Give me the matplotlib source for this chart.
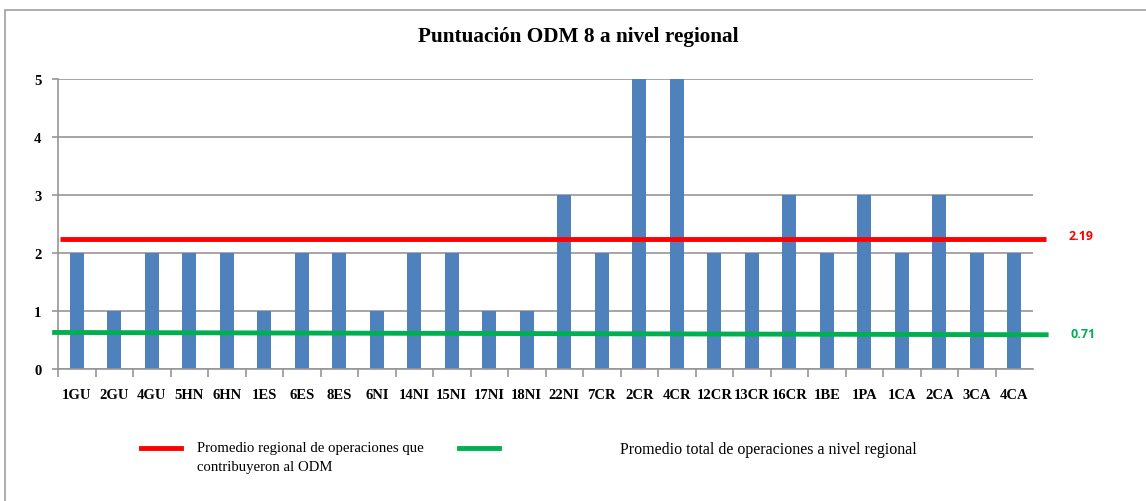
import matplotlib.pyplot as plt
import matplotlib.transforms as mtransforms
from matplotlib.patches import Rectangle

operaciones = ['1GU', '2GU', '4GU', '5HN', '6HN', '1ES', '6ES', '8ES', '6NI', '14NI',
               '15NI', '17NI', '18NI', '22NI', '7CR', '2CR', '4CR', '12CR', '13CR',
               '16CR', '1BE', '1PA', '1CA', '2CA', '3CA', '4CA']
puntuacion = [2, 1, 2, 2, 2, 1, 2, 2, 1, 2, 2, 1, 1, 3, 2, 5, 5, 2, 2, 3, 2, 3, 2, 3, 2, 2]

# lineas de promedio (posicion dibujada y etiqueta)
prom_regional_y = [2.25, 2.25]
prom_regional_txt = '2.19'
prom_total_y = [0.63, 0.59]
prom_total_txt = '0.71'

serif = 'Liberation Serif'
bar_color = '#4f81bd'
grid_color = '#969696'

fig = plt.figure(figsize=(11.46, 5.02), dpi=100)
ax = fig.add_axes([58 / 1146, 1 - 370 / 502, 975 / 1146, 290 / 502])

x = list(range(len(operaciones)))
ax.bar(x, puntuacion, width=0.37, color=bar_color, zorder=2)
ax.set_xlim(-0.5, len(operaciones) - 0.5)
ax.set_ylim(0, 5)
ax.set_yticks(range(6))
ax.yaxis.grid(True, color=grid_color, linewidth=1.2, zorder=0)
ax.set_axisbelow(True)

for s in ['top', 'right']:
    ax.spines[s].set_visible(False)
for s in ['left', 'bottom']:
    ax.spines[s].set_color(grid_color)
    ax.spines[s].set_linewidth(1.2)

ax.set_xticks([i + 0.5 for i in x[:-1]] + [-0.5], minor=False)
ax.set_xticklabels([])
ax.set_xticks(x, minor=True)
ax.set_xticklabels(operaciones, minor=True, fontfamily=serif, fontweight='bold', fontsize=10.5)
ax.tick_params(axis='x', which='major', length=6, color=grid_color, width=1.2)
ax.tick_params(axis='x', which='minor', length=0, pad=14)
ax.tick_params(axis='y', length=4, color=grid_color, width=1.2, pad=8)
for lbl in ax.get_yticklabels():
    lbl.set_fontfamily(serif)
    lbl.set_fontweight('bold')
    lbl.set_fontsize(10.5)

# lineas de promedio que sobresalen del area del grafico
trans = mtransforms.blended_transform_factory(ax.transAxes, ax.transData)
ax.plot([0.002, 1.013], prom_regional_y, color='#ff0000', linewidth=3.5,
        transform=trans, clip_on=False, zorder=3, solid_capstyle='butt')
ax.plot([-0.006, 1.016], prom_total_y, color='#00b050', linewidth=3.5,
        transform=trans, clip_on=False, zorder=3, solid_capstyle='butt')
ax.text(1.036, prom_regional_y[1] + 0.05, prom_regional_txt, transform=trans, color='#ff0000',
        fontfamily='Open Sans', fontweight='bold', fontsize=9, ha='left', va='center')
ax.text(1.038, prom_total_y[1] + 0.03, prom_total_txt, transform=trans, color='#00b050',
        fontfamily='Open Sans', fontweight='bold', fontsize=9, ha='left', va='center')

fig.text(578 / 1146, 1 - 37 / 502, 'Puntuación ODM 8 a nivel regional', fontfamily=serif,
         fontweight='bold', fontsize=15.3, ha='center', va='center')

# leyenda
fig.add_artist(plt.Line2D([141 / 1146, 181 / 1146], [1 - 449 / 502] * 2, color='#ff0000', linewidth=3.5))
fig.text(197 / 1146, 1 - 449 / 502, 'Promedio regional de operaciones que', fontfamily=serif,
         fontsize=10.6, ha='left', va='center')
fig.text(197 / 1146, 1 - 468 / 502, 'contribuyeron al ODM', fontfamily=serif,
         fontsize=10.6, ha='left', va='center')
fig.add_artist(plt.Line2D([459 / 1146, 499 / 1146], [1 - 449 / 502] * 2, color='#00b050', linewidth=3.5))
fig.text(620 / 1146, 1 - 450 / 502, 'Promedio total de operaciones a nivel regional', fontfamily=serif,
         fontsize=11.5, ha='left', va='center')

fig.add_artist(Rectangle((5 / 1146, -0.1), 1.2, 1 - 11 / 502 + 0.1, transform=fig.transFigure,
                         fill=False, edgecolor='#a0a0a0', linewidth=1.2))

fig.savefig('out.png', dpi=100)
